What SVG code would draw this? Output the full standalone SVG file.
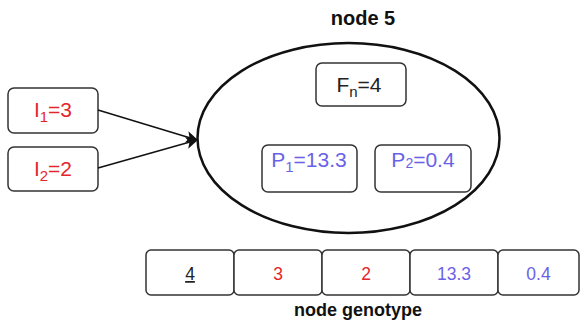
<svg xmlns="http://www.w3.org/2000/svg" width="582" height="328" viewBox="0 0 582 328">
<defs>
<style>
.box{fill:#fff;stroke:#333;stroke-width:1.5}
.t{font-family:"Liberation Sans",Arial,sans-serif;text-anchor:middle}
.red{fill:#e3262d}
.blue{fill:#6a62e6}
.big{font-size:21px}
.num{font-size:17.5px}
.title{font-weight:bold;fill:#111}
.conn{stroke:#111;stroke-width:1.5;fill:none;marker-end:url(#ah)}
</style>
<marker id="ah" viewBox="0 0 10 10" refX="9" refY="5" markerWidth="12" markerHeight="12" markerUnits="userSpaceOnUse" orient="auto">
<path d="M0,0 L10,5 L0,10 L2.5,5 z" fill="#111"/>
</marker>
</defs>
<rect width="582" height="328" fill="#fff"/>
<g id="node5">
<text class="t title" x="363" y="25" font-size="20">node 5</text>
<ellipse cx="348.5" cy="138" rx="151" ry="95" fill="#fff" stroke="#111" stroke-width="2.5"/>
</g>
<g id="fn">
<rect class="box" x="316" y="63" width="90" height="43" rx="6"/>
<text class="t big" x="359" y="92" fill="#222">F<tspan font-size="15" dy="5">n</tspan><tspan dy="-5">=4</tspan></text>
</g>
<g id="p1">
<rect class="box" x="262" y="145" width="95" height="47" rx="6"/>
<text class="t big blue" x="309" y="167">P<tspan font-size="15" dy="5">1</tspan><tspan dy="-5">=13.3</tspan></text>
</g>
<g id="p2">
<rect class="box" x="375" y="145" width="96" height="47" rx="6"/>
<text class="t big blue" x="423" y="167">P<tspan font-size="14" dy="1">2</tspan><tspan dy="-1">=0.4</tspan></text>
</g>
<g id="i1">
<rect class="box" x="8" y="88" width="90" height="45" rx="6"/>
<text class="t big red" x="53" y="117">I<tspan font-size="15" dy="5">1</tspan><tspan dy="-5">=3</tspan></text>
</g>
<g id="i2">
<rect class="box" x="8" y="147" width="90" height="44" rx="6"/>
<text class="t big red" x="53" y="176">I<tspan font-size="15" dy="5">2</tspan><tspan dy="-5">=2</tspan></text>
</g>
<g id="connectors">
<line class="conn" x1="98" y1="110" x2="197" y2="140"/>
<line class="conn" x1="98" y1="168" x2="197" y2="140"/>
</g>
<g id="genotype">
<rect class="box" x="146" y="250" width="88" height="45" rx="5"/>
<rect class="box" x="234" y="250" width="88" height="45" rx="5"/>
<rect class="box" x="322" y="250" width="88" height="45" rx="5"/>
<rect class="box" x="410" y="250" width="88" height="45" rx="5"/>
<rect class="box" x="498" y="250" width="81" height="45" rx="5"/>
<text class="t num" x="190" y="280" fill="#222" text-decoration="underline">4</text>
<text class="t num red" x="278" y="280">3</text>
<text class="t num red" x="366" y="280">2</text>
<text class="t num blue" x="454" y="280">13.3</text>
<text class="t num blue" x="538.5" y="280">0.4</text>
<text class="t title" x="358" y="316" font-size="18">node genotype</text>
</g>
</svg>
